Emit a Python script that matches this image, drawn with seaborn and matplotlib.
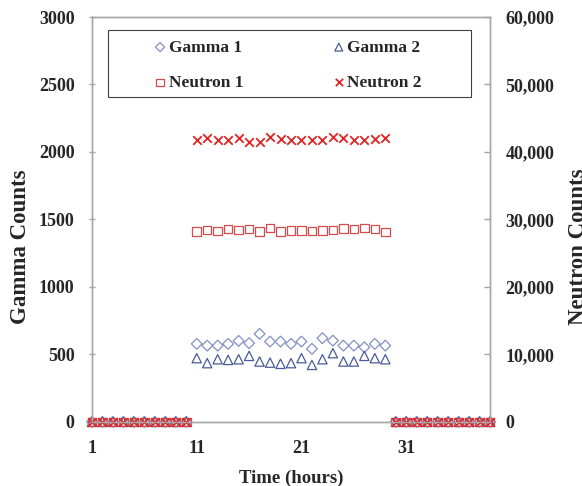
import numpy as np
import pandas as pd
import seaborn as sns
import matplotlib.pyplot as plt
from matplotlib.patches import Rectangle
from matplotlib.ticker import FuncFormatter

# donnees
hours = list(range(1, 40))
gamma1 = [0] * 10 + [578, 565, 565, 578, 600, 583, 652, 595, 595, 578,
                     595, 541, 620, 602, 565, 565, 553, 578, 565] + [0] * 10
gamma2 = [0] * 10 + [472, 435, 464, 459, 464, 489, 447, 439, 430, 435,
                     472, 422, 464, 509, 447, 447, 489, 472, 464] + [0] * 10
neutron1 = [0] * 10 + [28190, 28440, 28300, 28550, 28440, 28550, 28190, 28700, 28190, 28400,
                       28400, 28300, 28400, 28440, 28640, 28550, 28700, 28590, 28150] + [0] * 10
neutron2 = [0] * 10 + [41700, 42100, 41700, 41800, 42000, 41500, 41500, 42200, 41900, 41700,
                       41700, 41700, 41700, 42200, 42000, 41700, 41700, 41900, 42000] + [0] * 10

df = pd.DataFrame({"hour": hours, "Gamma 1": gamma1, "Gamma 2": gamma2,
                   "Neutron 1": neutron1, "Neutron 2": neutron2})

sns.set_theme(style="white")
plt.rcParams['font.family'] = ['Liberation Serif', 'DejaVu Serif']
plt.rcParams['font.weight'] = 'bold'

gris = '#a6a6a6'
fig = plt.figure(figsize=(5.82, 4.86), dpi=100)
ax = fig.add_axes([0.158, 0.132, 0.684, 0.833])
ax2 = ax.twinx()

# gamma sur l'axe gauche
sns.scatterplot(data=df, x="hour", y="Gamma 1", marker="D", s=30, facecolor="none",
                edgecolor="#8391c4", linewidth=0.9, clip_on=False, ax=ax, label="Gamma 1", legend=False)
sns.scatterplot(data=df, x="hour", y="Gamma 2", marker="^", s=45, facecolor="none",
                edgecolor="#4a5b98", linewidth=0.9, clip_on=False, ax=ax, label="Gamma 2", legend=False)
# neutrons sur l'axe droit
sns.scatterplot(data=df, x="hour", y="Neutron 1", marker="s", s=38, facecolor="none",
                edgecolor="#d64b4b", linewidth=0.9, clip_on=False, ax=ax2, label="Neutron 1", legend=False)
sns.scatterplot(data=df, x="hour", y="Neutron 2", marker="x", s=38, color="#e02424",
                linewidth=1.3, clip_on=False, ax=ax2, label="Neutron 2", legend=False)

ax.set_xlim(1, 39)
ax.set_xticks([1, 11, 21, 31])
ax.set_ylim(0, 3000)
ax.set_yticks(range(0, 3001, 500))
ax2.set_ylim(0, 60000)
ax2.set_yticks(range(0, 60001, 10000))
ax2.yaxis.set_major_formatter(FuncFormatter(lambda v, p: f"{v:,.0f}"))

for a in (ax, ax2):
    for sp in a.spines.values():
        sp.set_color(gris)
        sp.set_linewidth(1.0)
ax.tick_params(axis='y', direction='inout', length=5, width=1, color=gris, pad=10, labelsize=13)
ax.tick_params(axis='x', direction='in', length=4, width=1, color=gris, pad=13, labelsize=13)
ax2.tick_params(axis='y', direction='in', length=4, width=1, color=gris, pad=11, labelsize=13)

ax.set_xlabel("Time (hours)", fontsize=13.5, fontweight='bold', labelpad=9)
ax.set_ylabel("Gamma Counts", fontsize=16.5, fontweight='bold', labelpad=6, y=0.432)
ax2.set_ylabel("Neutron Counts", fontsize=16.5, fontweight='bold', labelpad=10, y=0.432)

# legende
handles = ax.collections + ax2.collections
ordre = [handles[0], handles[2], handles[1], handles[3]]
noms = ["Gamma 1", "Neutron 1", "Gamma 2", "Neutron 2"]
ax2.legend(ordre, noms, ncol=2, frameon=False, loc='center',
           bbox_to_anchor=(0.158, 0.881, 0.671, 0), mode='expand',
           borderpad=0, borderaxespad=0, handlelength=0.6, handletextpad=0.2,
           labelspacing=1.1, markerscale=0.85,
           prop={'family': 'Liberation Serif', 'weight': 'bold', 'size': 12.5})
ax2.add_patch(Rectangle((0.040, 0.802), 0.912, 0.166, transform=ax2.transAxes,
                        fill=False, edgecolor='#404040', linewidth=0.8, zorder=5))

plt.savefig("out.png", dpi=100)
